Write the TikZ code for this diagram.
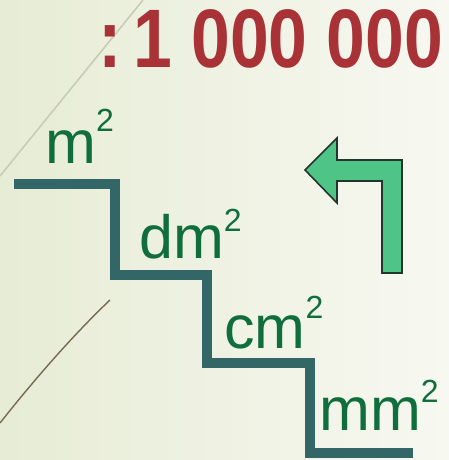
\documentclass[tikz,border=0pt]{standalone}
\usepackage{fontspec}
\setmainfont{Liberation Sans}
\usepackage{graphicx}
\definecolor{bgleft}{HTML}{E7ECD5}
\definecolor{bgright}{HTML}{F7F8F1}
\definecolor{stair}{HTML}{336666}
\definecolor{labgreen}{HTML}{0F6E3C}
\definecolor{titlered}{HTML}{A83236}
\definecolor{arrowgreen}{HTML}{4EC587}
\definecolor{arrowedge}{HTML}{24352C}
\definecolor{faintline}{HTML}{C8CCB4}
\definecolor{oliveline}{HTML}{766B52}
\newcommand\sqtwo[1]{\raisebox{#1pt}{\fontsize{32}{32}\selectfont 2}}
\tikzset{
  stairline/.style={draw=stair, line width=10pt, line join=miter, line cap=butt},
  unitlab/.style={anchor=base west, inner sep=0pt, text=labgreen, font=\fontsize{61}{61}\selectfont},
  titletext/.style={anchor=base west, inner sep=0pt, text=titlered, font=\fontsize{83}{83}\selectfont\bfseries},
  bigarrow/.style={fill=arrowgreen, draw=arrowedge, line width=1.6pt, line join=miter},
}
\begin{document}
\begin{tikzpicture}[x=1pt,y=-1pt]
\useasboundingbox (0,0) rectangle (449,460);
\shade[shading angle=110, left color=bgleft, right color=bgright] (0,0) rectangle (449,460);
% decorative lines
\draw[color=faintline, line width=1.6pt] (0,176) -- (143,0);
\draw[color=oliveline, line width=1.4pt] (0,423) .. controls (30,385) and (70,338) .. (110,300);
% title
\node[titletext] (colon) at (98,67) {\scalebox{0.85}[1]{:}};
\node[titletext] (ratio) at (133,67) {\scalebox{0.84}[1]{1 000 000}};
% staircase
\draw[stairline] (14,184) -- (114.5,184) -- (114.5,275) -- (207,275) -- (207,363) -- (310,363) -- (310,453) -- (413,453);
% labels
\node[unitlab] (m2) at (45,163) {m\sqtwo{32}};
\node[unitlab] (dm2) at (139,258) {dm\sqtwo{27}};
\node[unitlab] (cm2) at (224,348) {cm\sqtwo{30}};
\node[unitlab] (mm2) at (319,430) {mm\sqtwo{28}};
% arrow
\draw[bigarrow] (305,170) -- (337,138) -- (337,160) -- (402,160) -- (402,273) -- (382,273) -- (382,181) -- (337,181) -- (337,203) -- cycle;
\end{tikzpicture}
\end{document}
